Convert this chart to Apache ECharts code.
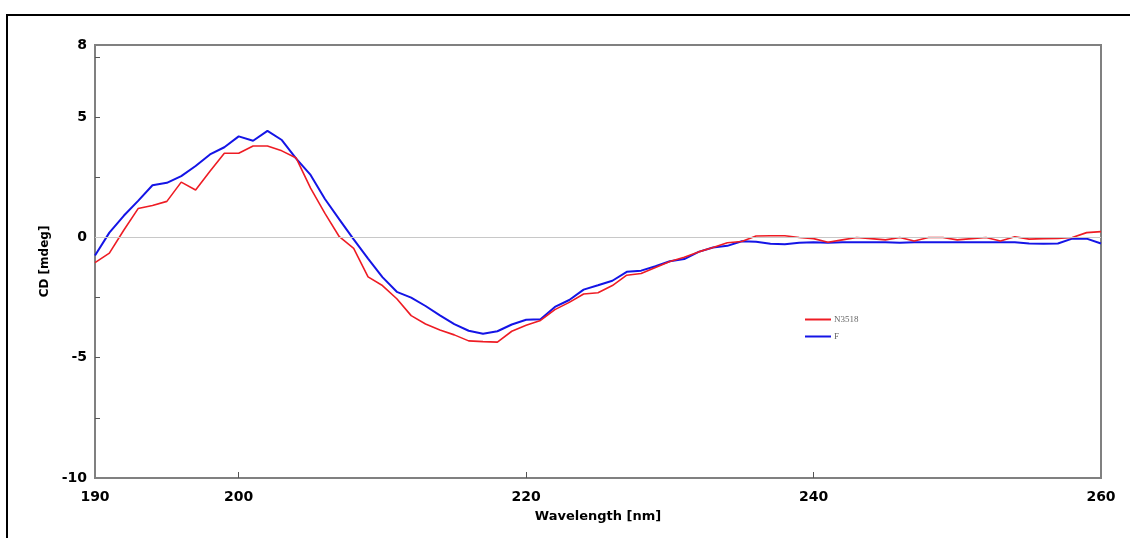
<!DOCTYPE html>
<html>
<head>
<meta charset="utf-8">
<title>CD spectrum</title>
<script src="https://cdn.jsdelivr.net/npm/echarts@6/dist/echarts.min.js"></script>
<style>
  html, body { margin: 0; padding: 0; background: #fff; }
  #chart { width: 1130px; height: 538px; }
</style>
</head>
<body>
<div id="chart"></div>
<script>
// Wavelength grid (nm), 1 nm steps
const wavelengths = [
  190,191,192,193,194,195,196,197,198,199,
  200,201,202,203,204,205,206,207,208,209,
  210,211,212,213,214,215,216,217,218,219,
  220,221,222,223,224,225,226,227,228,229,
  230,231,232,233,234,235,236,237,238,239,
  240,241,242,243,244,245,246,247,248,249,
  250,251,252,253,254,255,256,257,258,259,
  260
];

// Ellipticity, mdeg
const cdN3518 = [
  -1.05,-0.65, 0.30, 1.20, 1.33, 1.50, 2.30, 1.97, 2.75, 3.50,
   3.50, 3.80, 3.80, 3.60, 3.30, 2.05, 1.00, 0.03,-0.45,-1.64,
  -2.00,-2.55,-3.25,-3.60,-3.85,-4.05,-4.30,-4.33,-4.35,-3.90,
  -3.65,-3.45,-3.00,-2.70,-2.35,-2.30,-2.00,-1.57,-1.50,-1.25,
  -1.00,-0.82,-0.60,-0.42,-0.22,-0.17, 0.06, 0.07, 0.07, 0.00,
  -0.05,-0.20,-0.10, 0.00,-0.05,-0.10, 0.00,-0.15, 0.00, 0.00,
  -0.10,-0.05, 0.00,-0.15, 0.03,-0.07,-0.05,-0.04, 0.00, 0.20,
   0.24
];

const cdF = [
  -0.75, 0.20, 0.90, 1.52, 2.17, 2.27, 2.55, 2.97, 3.45, 3.75,
   4.20, 4.02, 4.43, 4.05, 3.28, 2.60, 1.60, 0.75,-0.08,-0.88,
  -1.65,-2.26,-2.50,-2.85,-3.24,-3.60,-3.88,-4.00,-3.90,-3.62,
  -3.42,-3.40,-2.89,-2.60,-2.17,-1.99,-1.80,-1.43,-1.38,-1.20,
  -0.99,-0.90,-0.60,-0.42,-0.35,-0.16,-0.18,-0.26,-0.28,-0.22,
  -0.20,-0.22,-0.20,-0.20,-0.20,-0.20,-0.22,-0.20,-0.20,-0.20,
  -0.20,-0.20,-0.20,-0.20,-0.20,-0.25,-0.26,-0.25,-0.05,-0.05,
  -0.25
];

const seriesNames = ['N3518', 'F'];
const xLabelValues = [190, 200, 220, 240, 260];
const xTickValues = [200, 220, 240];
const yLabelValues = [-10, -5, 0, 5, 8];
const yTickValues = [-7.5, -5, -2.5, 0, 2.5, 5, 7.5];

const pair = (ys) => wavelengths.map((w, i) => [w, ys[i]]);

const chart = echarts.init(document.getElementById('chart'), null, { renderer: 'canvas' });

const axisFont = { fontFamily: 'DejaVu Sans', fontWeight: 'bold', color: '#000' };

chart.setOption({
  animation: false,
  backgroundColor: '#fff',
  graphic: [
    {
      type: 'polyline',
      shape: { points: [[7, 538], [7, 15], [1130, 15]] },
      style: { stroke: '#000', lineWidth: 2, fill: null },
      silent: true
    }
  ],
  legend: {
    orient: 'vertical',
    left: 800,
    top: 310,
    itemWidth: 26,
    itemHeight: 2,
    itemGap: 8,
    icon: 'rect',
    textStyle: { fontFamily: 'Liberation Serif', fontSize: 9, color: '#666', padding: [0, 0, 0, -2] },
    data: seriesNames
  },
  grid: {
    left: 95, right: 29, top: 45, bottom: 60,
    show: true,
    borderColor: '#808080',
    borderWidth: 2,
    backgroundColor: 'transparent'
  },
  xAxis: {
    type: 'value',
    min: 190,
    max: 260,
    name: 'Wavelength [nm]',
    nameLocation: 'middle',
    nameGap: 32,
    nameTextStyle: Object.assign({ fontSize: 13 }, axisFont),
    axisLine: { show: true, onZero: false, lineStyle: { color: '#808080', width: 2 } },
    axisTick: { show: true, inside: true, length: 6, customValues: xTickValues, lineStyle: { color: '#555' } },
    axisLabel: Object.assign({ fontSize: 14, margin: 12, customValues: xLabelValues }, axisFont),
    splitLine: { show: false }
  },
  yAxis: {
    type: 'value',
    min: -10,
    max: 8,
    name: 'CD [mdeg]',
    nameLocation: 'middle',
    nameGap: 38,
    nameRotate: 90,
    nameTextStyle: Object.assign({ fontSize: 12 }, axisFont),
    axisLine: { show: true, lineStyle: { color: '#808080', width: 2 } },
    axisTick: { show: true, inside: true, length: 5, customValues: yTickValues, lineStyle: { color: '#555' } },
    axisLabel: Object.assign({ fontSize: 14, margin: 8, padding: [6, 0, 0, 0], customValues: yLabelValues }, axisFont),
    splitLine: { show: false }
  },
  series: [
    {
      name: seriesNames[0],
      type: 'line',
      data: pair(cdN3518),
      showSymbol: false,
      symbol: 'none',
      color: '#ee1c24',
      lineStyle: { color: '#ee1c24', width: 1.6 },
      z: 3,
      markLine: {
        silent: true,
        symbol: 'none',
        label: { show: false },
        lineStyle: { color: '#c8c8c8', width: 1, type: 'solid' },
        data: [{ yAxis: 0 }]
      }
    },
    {
      name: seriesNames[1],
      type: 'line',
      data: pair(cdF),
      showSymbol: false,
      symbol: 'none',
      color: '#1414e6',
      lineStyle: { color: '#1414e6', width: 2 },
      z: 2
    }
  ]
});
</script>
</body>
</html>
